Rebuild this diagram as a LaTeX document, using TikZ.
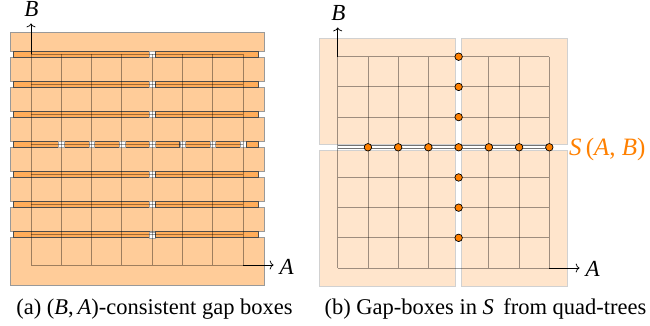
\documentclass[tikz,border=0pt]{standalone}
\usepackage{fontspec}
\usetikzlibrary{arrows.meta}
\setmainfont{Liberation Serif}
\newfontfamily\tmsfont{Liberation Serif}
\begin{document}
\begin{tikzpicture}[x=1pt,y=-1pt,
  bigbox/.style={fill=orange!40, draw=black!40, line width=0.8pt},
  thinstrip/.style={fill=orange!65, draw=black!70, line width=0.7pt},
  gapbox/.style={fill=white, draw=black!35, line width=0.6pt},
  gridln/.style={draw=black, opacity=0.38, line width=0.85pt},
  axisln/.style={draw=black, line width=0.75pt, -{To[length=3.8pt,width=9pt]}},
  quadbox/.style={fill=orange!20, draw=black!18, line width=0.8pt},
  dblline/.style={draw=black!55, double=white, double distance=2.4pt, line width=0.6pt},
  odot/.style={circle, fill=orange, draw=black, line width=0.7pt, inner sep=0pt, minimum size=7.5pt},
  labtxt/.style={inner sep=0pt, font=\tmsfont\fontsize{23}{26}\selectfont\itshape},
  captxt/.style={inner sep=0pt, font=\tmsfont\fontsize{22.5}{26}\selectfont}]
\useasboundingbox (0,0) rectangle (650,326);

% ---------------- (a) ----------------
\foreach \k in {0,...,5}{
  \pgfmathsetmacro{\ya}{54+30.14*\k+3}
  \pgfmathsetmacro{\yb}{54+30.14*(\k+1)-3}
  \draw[bigbox] (10,\ya) rectangle (264.3,\yb);
}
\draw[bigbox] (10,237.86) rectangle (264.3,285.7);
\draw[bigbox] (10,32.3) rectangle (264.3,51);
% thin strips
\foreach \k in {0,1,2,4,5,6}{
  \pgfmathsetmacro{\yc}{54+30.14*\k}
  \draw[thinstrip] (13.3,\yc-3) rectangle (149.5,\yc+3);
  \draw[gapbox] (149.5,\yc-3) rectangle (155.3,\yc+3);
  \draw[thinstrip] (155.3,\yc-3) rectangle (258.3,\yc+3);
}
% middle strip split at each vertical grid line
\pgfmathsetmacro{\ym}{54+30.14*3}
\draw[thinstrip] (13.3,\ym-3) rectangle (58.6,\ym+3);
\foreach \i in {1,...,6}{
  \pgfmathsetmacro{\xa}{31+30.3*\i+2.9}
  \pgfmathsetmacro{\xb}{31+30.3*(\i+1)-2.7}
  \draw[thinstrip] (\xa,\ym-3) rectangle (\xb,\ym+3);
}
\foreach \i in {1,...,7}{
  \pgfmathsetmacro{\xg}{31+30.3*\i}
  \draw[gapbox] (\xg-2.7,\ym-3) rectangle (\xg+2.9,\ym+3);
}
\draw[thinstrip] (246,\ym-3) rectangle (258.3,\ym+3);
% grid
\foreach \i in {0,...,7}{
  \pgfmathsetmacro{\xg}{31+30.3*\i}
  \draw[gridln] (\xg,54) -- (\xg,265);
}
\foreach \k in {0,...,7}{
  \pgfmathsetmacro{\yg}{54+30.14*\k}
  \draw[gridln] (31,\yg) -- (243.1,\yg);
}
% axes
\coordinate (aB0) at (31,54);
\coordinate (aB1) at (31,23.5);
\coordinate (aA0) at (243.1,265);
\coordinate (aA1) at (273.5,265);
\draw[axisln] (aB0) -- (aB1);
\draw[axisln] (aA0) -- (aA1);
\node[labtxt, anchor=base] (labBa) at (31.3,17) {B};
\node[labtxt, anchor=base west] (labAa) at (279.5,274) {A};

% ---------------- (b) ----------------
\draw[quadbox] (319.3,38.7) rectangle (455.7,144.3);
\draw[quadbox] (461.7,38.7) rectangle (567.3,144.3);
\draw[quadbox] (319.3,150.3) rectangle (455.7,286);
\draw[quadbox] (461.7,150.3) rectangle (567.3,286);
\foreach \i in {0,1,2,3,5,6,7}{
  \pgfmathsetmacro{\xg}{337.7+30.23*\i}
  \draw[gridln] (\xg,56.7) -- (\xg,268);
}
\foreach \k in {0,1,2,4,5,6,7}{
  \pgfmathsetmacro{\yg}{56.7+30.19*\k}
  \draw[gridln] (337.7,\yg) -- (549.3,\yg);
}
\coordinate (hL) at (337.7,147.27);
\coordinate (hR) at (549.3,147.27);
\coordinate (vT) at (458.62,56.7);
\coordinate (vB) at (458.62,268);
\draw[dblline] (hL) -- (hR);
\draw[dblline] (vT) -- (vB);
\foreach \i in {1,...,7}{
  \node[odot] (dh\i) at (337.7+30.23*\i,147.27) {};
}
\foreach \k in {0,1,2,4,5,6}{
  \node[odot] (dv\k) at (458.62,56.7+30.19*\k) {};
}
\coordinate (bB0) at (337.7,56.7);
\coordinate (bB1) at (337.7,27.5);
\coordinate (bA0) at (549.3,268);
\coordinate (bA1) at (579.5,268);
\draw[axisln] (bB0) -- (bB1);
\draw[axisln] (bA0) -- (bA1);
\node[labtxt, anchor=base] (labBb) at (338.5,20.7) {B};
\node[labtxt, anchor=base west] (labAb) at (585.5,276.7) {A};
\node[inner sep=0pt, anchor=base west, text=orange, font=\tmsfont\fontsize{25}{28}\selectfont] (labS) at (569,155)
  {\textit{S}\,(\textit{A}, \textit{B})};

% captions
\node[captxt, anchor=base] (capa) at (154.5,314) {(a) (\textit{B},\,\textit{A})-consistent gap boxes};
\node[captxt, anchor=base] (capb) at (485.5,314) {(b) Gap-boxes in \textit{S}\, from quad-trees};
\end{tikzpicture}
\end{document}
